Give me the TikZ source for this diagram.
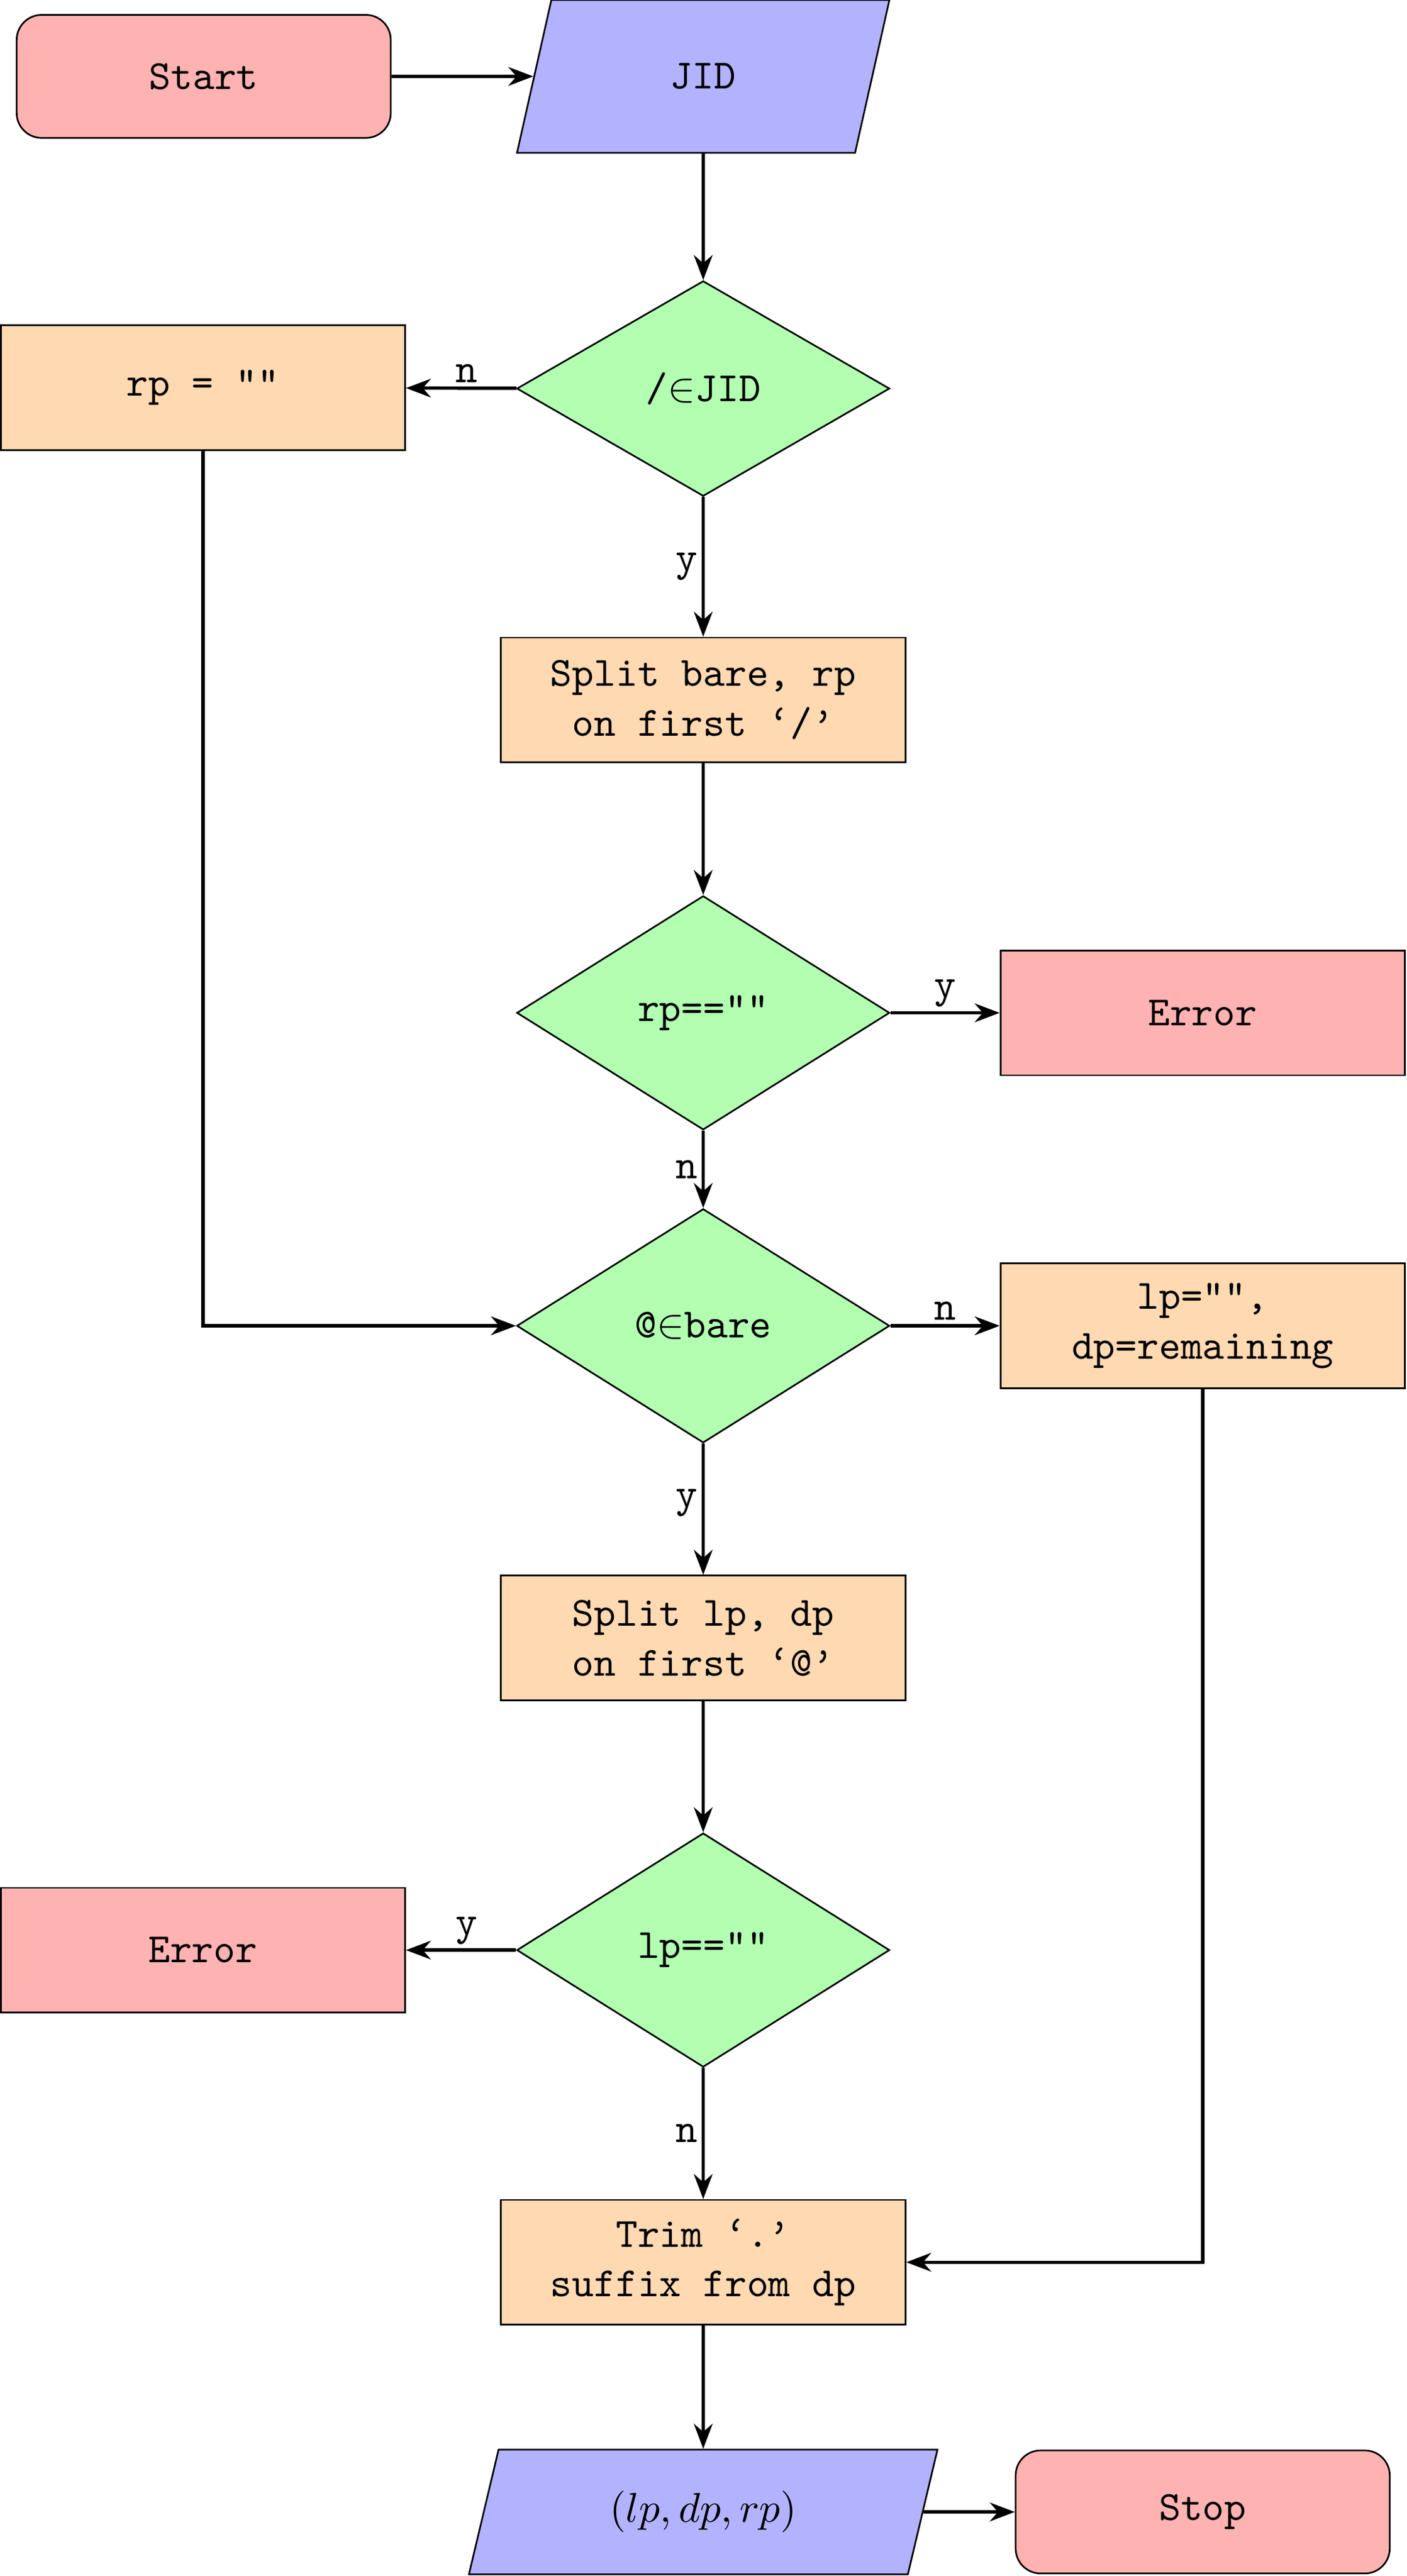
\documentclass[tikz,border=0pt]{standalone}
\usetikzlibrary{shapes.geometric,arrows.meta}
\begin{document}
\begin{tikzpicture}[x=0.3953pt,y=-0.3953pt,
  font=\ttfamily,
  term/.style={draw,rounded corners=6pt,fill=red!30,minimum width=90pt,minimum height=29.6pt,inner sep=0pt},
  errbox/.style={draw,fill=red!30,minimum width=97.3pt,minimum height=30pt,inner sep=0pt},
  proc/.style={draw,fill=orange!30,minimum width=97.3pt,minimum height=30pt,inner sep=0pt,align=center},
  dec/.style={draw,diamond,fill=green!30,minimum width=89.7pt,minimum height=56.3pt,inner sep=0pt},
  io/.style={draw,trapezium,trapezium left angle=72,trapezium right angle=108,trapezium stretches=true,fill=blue!30,inner sep=0pt},
  arr/.style={thick,-{Stealth[length=6pt,width=4.5pt]}},
  lab/.style={inner sep=1pt}]
\useasboundingbox (0,0) rectangle (856,1568);
\node[term] (start) at (124,46.5) {Start};
\node[io,minimum width=89.7pt,minimum height=36.8pt,trapezium left angle=74,trapezium right angle=106] (jid) at (428,46.5) {JID};
\node[dec,minimum height=51.8pt] (d1) at (428,236.5) {/$\in$JID};
\node[proc] (rp) at (123.5,236) {rp = ""};
\node[proc] (split1) at (428,426) {Split bare, rp\\on first ‘/’};
\node[dec] (d2) at (428,616.5) {rp==""};
\node[errbox] (err1) at (732,616.5) {Error};
\node[dec] (d3) at (428,807) {@$\in$bare};
\node[proc] (lp) at (732,807) {lp="",\\dp=remaining};
\node[proc] (split2) at (428,997) {Split lp, dp\\on first ‘@’};
\node[dec] (d4) at (428,1187) {lp==""};
\node[errbox] (err2) at (123.5,1187) {Error};
\node[proc] (trim) at (428,1377) {Trim ‘.’\\suffix from dp};
\node[io,minimum width=113pt,minimum height=30pt] (out) at (428,1529) {$(lp,dp,rp)$};
\node[term] (stop) at (732,1529) {Stop};

\draw[arr] (start) -- (jid);
\draw[arr] (jid) -- (d1);
\draw[arr] (d1) -- node[lab,above,pos=0.45] {n} (rp);
\draw[arr] (d1) -- node[lab,left,pos=0.5] {y} (split1);
\draw[arr] (split1) -- (d2);
\draw[arr] (d2) -- node[lab,above,pos=0.5] {y} (err1);
\draw[arr] (d2) -- node[lab,left,pos=0.5] {n} (d3);
\draw[arr] (rp.south) |- (d3.west);
\draw[arr] (d3) -- node[lab,above,pos=0.5] {n} (lp);
\draw[arr] (d3) -- node[lab,left,pos=0.45] {y} (split2);
\draw[arr] (split2) -- (d4);
\draw[arr] (d4) -- node[lab,above,pos=0.45] {y} (err2);
\draw[arr] (d4) -- node[lab,left,pos=0.5] {n} (trim);
\draw[arr] (lp.south) |- (trim.east);
\draw[arr] (trim) -- (out);
\draw[arr] (out) -- (stop);
\end{tikzpicture}
\end{document}
